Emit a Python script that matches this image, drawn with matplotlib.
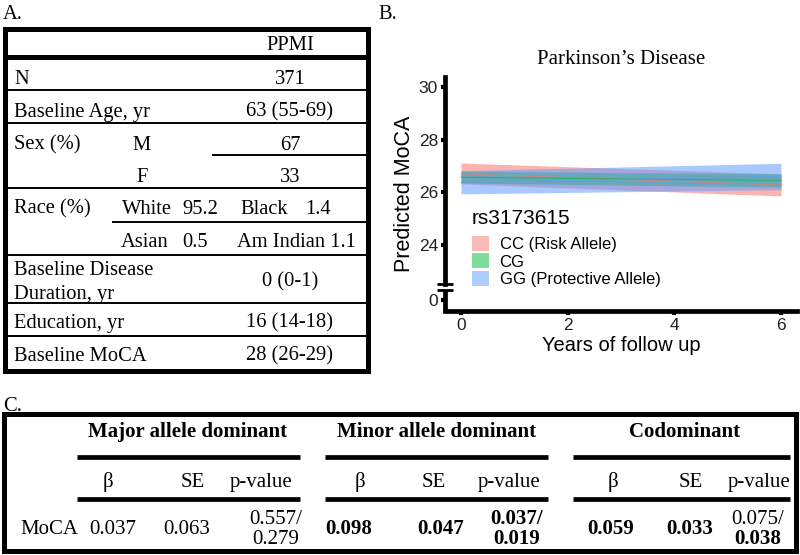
import matplotlib
matplotlib.use("Agg")
import matplotlib.pyplot as plt
from matplotlib.patches import Patch, Rectangle

# ---------------- data ----------------
# Table A
ppmi_header = "PPMI"
a_labels = ["N", "Baseline Age, yr", "Sex (%)", "Race (%)",
            "Baseline Disease", "Duration, yr", "Education, yr", "Baseline MoCA"]
a_N = "371"
a_age = "63 (55-69)"
a_sex = [("M", "67"), ("F", "33")]
a_race = [("White", "95.2", "Black", "1.4"), ("Asian", "0.5", "Am Indian 1.1", "")]
a_duration = "0 (0-1)"
a_education = "16 (14-18)"
a_moca = "28 (26-29)"

# Chart B
years = [0, 6]
genotypes = ["CC (Risk Allele)", "CG", "GG (Protective Allele)"]
colors = ["#F8766D", "#00BA38", "#619CFF"]
lower = {"CC (Risk Allele)": [26.32, 25.86],
         "CG": [26.35, 26.20],
         "GG (Protective Allele)": [25.94, 26.10]}
upper = {"CC (Risk Allele)": [27.11, 26.70],
         "CG": [26.80, 26.70],
         "GG (Protective Allele)": [26.82, 27.10]}
mean = {"CC (Risk Allele)": [26.70, 26.28],
        "CG": [26.57, 26.45],
        "GG (Protective Allele)": [26.38, 26.60]}
x_ticks = [0, 2, 4, 6]
y_tick_vals = [24, 26, 28, 30]
y_zero_label = "0"
legend_title = "rs3173615"
chart_title = "Parkinson\u2019s Disease"

# Table C
c_groups = ["Major allele dominant", "Minor allele dominant", "Codominant"]
c_sub = ["\u03b2", "SE", "p-value"]
c_row = "MoCA"
c_beta = ["0.037", "0.098", "0.059"]
c_se = ["0.063", "0.047", "0.033"]
c_p1 = ["0.557/", "0.037/", "0.075/"]
c_p2 = ["0.279", "0.019", "0.038"]
c_beta_bold = [False, True, True]
c_se_bold = [False, True, True]
c_p1_bold = [False, True, False]
c_p2_bold = [False, True, True]

# ---------------- figure ----------------
fig = plt.figure(figsize=(8, 5.55), dpi=100)
serif = "Liberation Serif"
sans = "Liberation Sans"

ov = fig.add_axes([0, 0, 1, 1])
ov.set_xlim(0, 800)
ov.set_ylim(555, 0)
ov.axis("off")
ov.patch.set_visible(False)

fsA = 14.8
fsC = 15.0
def t(x, y, s, ha="left", bold=False, size=fsA):
    # y is the visual centre of capitals; place baseline below it
    ov.text(x, y + size * 0.46, s, ha=ha, va="baseline", fontsize=size,
            family=serif, fontweight="bold" if bold else "normal")

def hline(y, x0, x1, lw):
    ov.plot([x0, x1], [y, y], color="black", lw=lw, solid_capstyle="butt")

# panel letters
t(3, 12, "A.")
t(378, 12, "B.")
t(3, 404, "C.")

# ---- Table A ----
L, R = 5, 368
ov.add_patch(Rectangle((L, 29), R - L, 342, fill=False, lw=3.6, edgecolor="black"))
hline(57, L, R, 3.6)
for y in [90, 123, 188, 255, 303, 336]:
    hline(y, L, R, 1.4)
hline(155, 212, R, 1.4)
hline(222, 112, R, 1.4)

vc = 290
t(vc, 43, ppmi_header, ha="center")
t(14, 77, a_labels[0]); t(vc, 77, a_N, ha="center")
t(14, 110, a_labels[1]); t(vc, 110, a_age, ha="center")
t(14, 143, a_labels[2])
t(142, 143, a_sex[0][0], ha="center"); t(vc, 143, a_sex[0][1], ha="center")
t(142, 175, a_sex[1][0], ha="center"); t(vc, 175, a_sex[1][1], ha="center")
t(14, 207, a_labels[3])
t(122, 207, a_race[0][0]); t(182, 207, a_race[0][1])
t(240, 207, a_race[0][2]); t(305, 207, a_race[0][3])
t(121, 240, a_race[1][0]); t(182, 240, a_race[1][1])
t(237, 240, a_race[1][2])
t(14, 268, a_labels[4]); t(14, 292, a_labels[5])
t(vc, 280, a_duration, ha="center")
t(14, 321, a_labels[6]); t(vc, 321, a_education, ha="center")
t(14, 354, a_labels[7]); t(vc, 354, a_moca, ha="center")

# ---- Table C ----
ov.add_patch(Rectangle((4, 414), 792, 137, fill=False, lw=3.6, edgecolor="black"))
group_spans = [(77, 300), (325, 548), (573, 790)]
group_centers = [188, 437, 685]
sub_x = [(108, 193, 261), (360, 434, 509), (613, 691, 759)]
val_x = [(113, 187, 276), (349, 441, 517), (611, 690, 758)]
for g in range(3):
    x0, x1 = group_spans[g]
    t(group_centers[g], 430, c_groups[g], ha="center", bold=True, size=fsC)
    hline(457, x0, x1, 3.4)
    hline(499, x0, x1, 3.4)
    for k in range(3):
        t(sub_x[g][k], 480, c_sub[k], ha="center", size=fsC)
    t(val_x[g][0], 527, c_beta[g], ha="center", bold=c_beta_bold[g], size=fsC)
    t(val_x[g][1], 527, c_se[g], ha="center", bold=c_se_bold[g], size=fsC)
    t(val_x[g][2], 517, c_p1[g], ha="center", bold=c_p1_bold[g], size=fsC)
    t(val_x[g][2], 537, c_p2[g], ha="center", bold=c_p2_bold[g], size=fsC)
t(20, 527, c_row, size=fsC)

# ---- Chart B ----
ax = fig.add_axes([445 / 800, 1 - 311 / 555, 352 / 800, 234 / 555])
ymin, ymax = 21.49, 30.38
zero_pos = 21.91
brk_top, brk_bot = 22.50, 22.28
ax.set_xlim(-0.3, 6.3)
ax.set_ylim(ymin, ymax)
for g, c in zip(genotypes, colors):
    ax.fill_between(years, lower[g], upper[g], color=c, alpha=0.55, lw=0)
    ax.plot(years, mean[g], color=c, lw=0.8, alpha=0.6)

for s in ["top", "right"]:
    ax.spines[s].set_visible(False)
ax.spines["bottom"].set_linewidth(3.4)
ax.spines["left"].set_linewidth(3.4)
ax.spines["left"].set_bounds(brk_top, ymax)
ax.plot([-0.3, -0.3], [ymin, brk_bot], color="black", lw=3.4, clip_on=False,
        solid_capstyle="butt")
for yb in [brk_top, brk_bot]:
    ax.plot([-0.45, -0.15], [yb, yb], color="black", lw=2.0, clip_on=False,
            solid_capstyle="butt")

ax.set_xticks(x_ticks)
ax.set_yticks([zero_pos] + y_tick_vals)
ax.set_yticklabels([y_zero_label] + [str(v) for v in y_tick_vals])
ax.tick_params(axis="both", length=3, width=3, color="black", labelsize=12.5,
               labelcolor="#222222", pad=2)
for lab in ax.get_xticklabels() + ax.get_yticklabels():
    lab.set_family(sans)
ax.set_xlabel("Years of follow up", family=sans, fontsize=14.5, labelpad=2)
ax.set_ylabel("Predicted MoCA", family=sans, fontsize=15.5, labelpad=3)
ax.set_title(chart_title, family=serif, fontsize=15, pad=9)

fig.text(472 / 800, 1 - 218 / 555, legend_title, ha="left", va="center",
         family=sans, fontsize=15)
handles = [Patch(facecolor=c, alpha=0.5, edgecolor="none") for c in colors]
leg = ax.legend(handles, genotypes, loc="upper left",
                bbox_to_anchor=(472 / 800, 1 - 236 / 555),
                bbox_transform=fig.transFigure, frameon=False,
                prop={"family": sans, "size": 12},
                handlelength=1.0, handleheight=1.0,
                handletextpad=0.65, labelspacing=0.08, borderpad=0,
                borderaxespad=0)

fig.savefig("out.png", dpi=100)
